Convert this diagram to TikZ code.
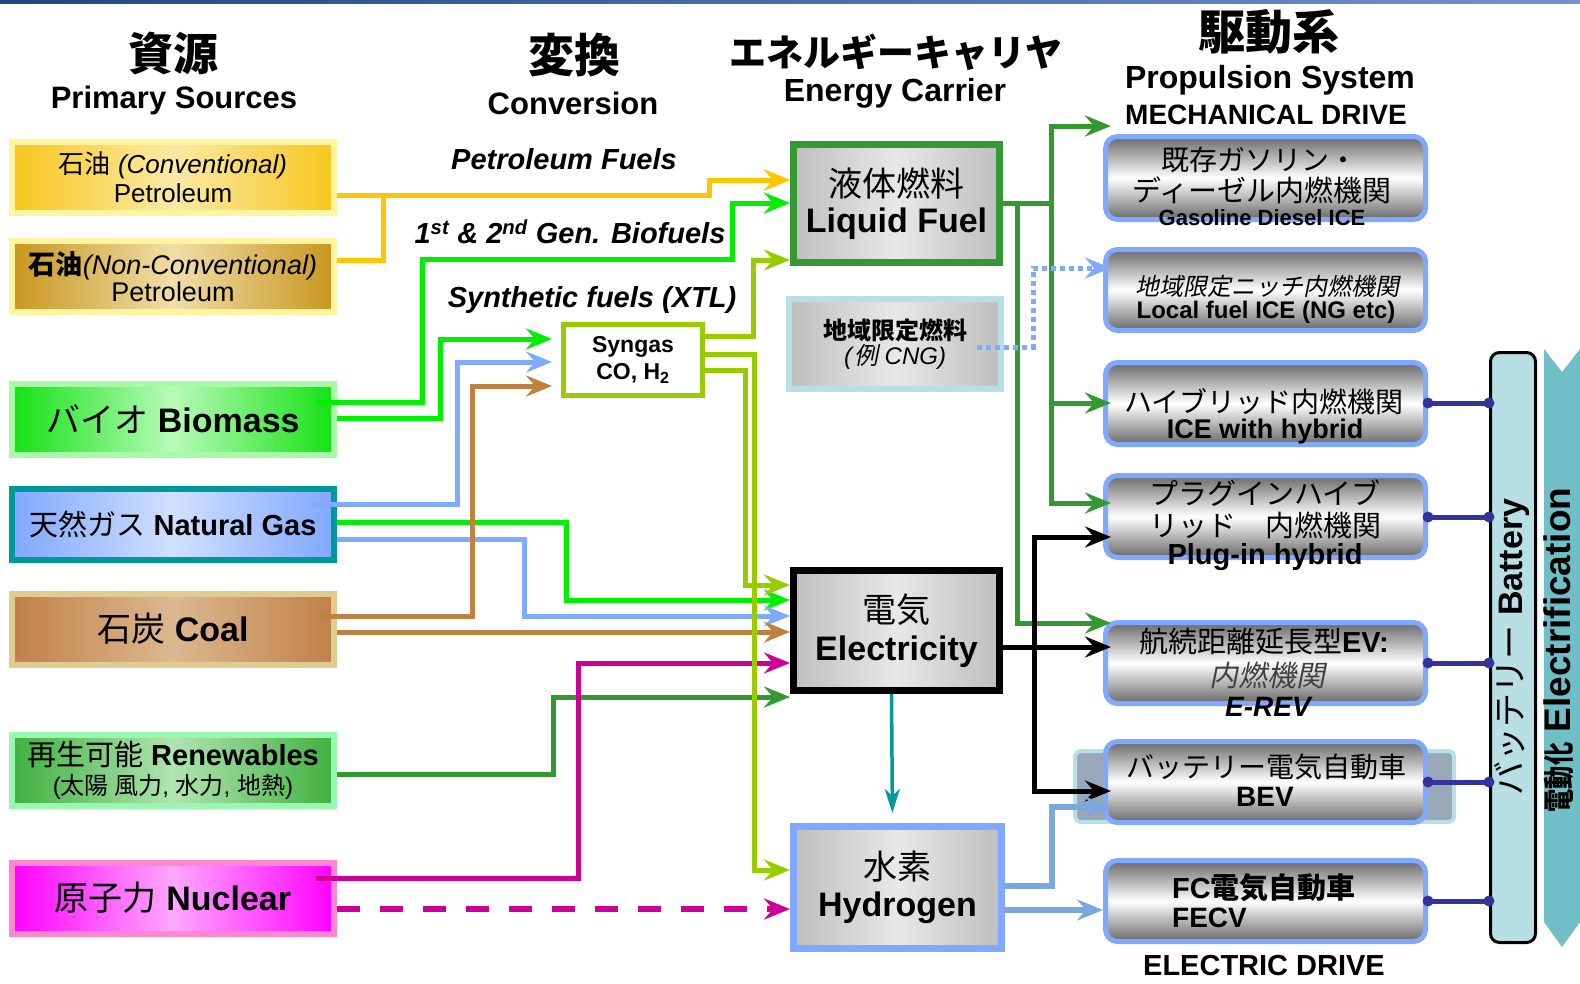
\documentclass[tikz,border=0pt]{standalone}
\usepackage{fontspec}
\setmainfont{Liberation Sans}
\newfontfamily\jp{Noto Sans CJK JP}[AutoFakeSlant=0.2]
\usetikzlibrary{arrows.meta}
\newcommand{\fsz}[2]{\fontsize{#1}{#2}\selectfont}
\definecolor{topL}{RGB}{31,73,125}
\definecolor{topR}{RGB}{110,150,200}
\definecolor{cYel}{RGB}{255,198,0}
\definecolor{cGrn}{RGB}{0,238,0}
\definecolor{cBlu}{RGB}{128,170,255}
\definecolor{cBrn}{RGB}{192,128,64}
\definecolor{cLgr}{RGB}{153,204,0}
\definecolor{cMag}{RGB}{204,0,153}
\definecolor{cDgr}{RGB}{51,153,51}
\definecolor{cTeal}{RGB}{0,153,153}
\definecolor{cHyd}{RGB}{123,167,222}
\definecolor{cBat}{RGB}{51,51,153}
\definecolor{convB}{RGB}{255,245,160}
\definecolor{convE}{RGB}{247,198,30}
\definecolor{convM}{RGB}{251,234,165}
\definecolor{ncvE}{RGB}{200,150,30}
\definecolor{ncvM}{RGB}{240,222,168}
\definecolor{bioB}{RGB}{168,250,168}
\definecolor{bioE}{RGB}{20,225,20}
\definecolor{bioM}{RGB}{185,250,185}
\definecolor{ngB}{RGB}{0,153,153}
\definecolor{ngE}{RGB}{128,168,255}
\definecolor{ngM}{RGB}{208,224,255}
\definecolor{coalB}{RGB}{224,204,144}
\definecolor{coalE}{RGB}{192,128,72}
\definecolor{coalM}{RGB}{220,184,144}
\definecolor{renB}{RGB}{152,248,176}
\definecolor{renE}{RGB}{64,176,64}
\definecolor{renM}{RGB}{176,228,176}
\definecolor{nucB}{RGB}{255,136,204}
\definecolor{nucE}{RGB}{255,0,255}
\definecolor{nucM}{RGB}{255,168,255}
\definecolor{gryE}{RGB}{190,190,190}
\definecolor{gryM}{RGB}{232,232,232}
\definecolor{lcB}{RGB}{184,224,228}
\definecolor{pB}{RGB}{128,168,255}
\definecolor{pDark}{RGB}{105,105,105}
\definecolor{shF}{RGB}{152,168,184}
\definecolor{batF}{RGB}{184,224,228}
\definecolor{elecF}{RGB}{112,190,198}
\tikzset{
  src/.style={line width=6pt, minimum width=322pt, minimum height=71pt, inner sep=0pt, align=center},
  carrier/.style={left color=gryE, right color=gryE, middle color=gryM, inner sep=0pt, align=center},
  pbox/.style={draw=pB, line width=5pt, rounded corners=12pt, minimum width=320pt, top color=pDark, bottom color=pDark, middle color=white, inner sep=0pt},
  txt/.style={inner sep=0pt, align=center},
  conn/.style={line width=5pt, -{Stealth[length=26pt,width=21pt,inset=9pt]}},
  into/.style={shorten >=-8pt},
  tosyn/.style={shorten >=9pt},
  batline/.style={draw=cBat, line width=5pt},
}
\begin{document}
\begin{tikzpicture}[x=1pt,y=-1pt]
\useasboundingbox (0,0) rectangle (1580,983);
\fill[left color=topL, right color=topR] (0,0) rectangle (1580,3);

% headers
\node[txt, font=\bfseries\fsz{45}{50}] (h1) at (173,53) {\jp 資源};
\node[txt, font=\bfseries\fsz{31}{36}] (h1e) at (174,100) {Primary Sources};
\node[txt, font=\bfseries\fsz{46}{50}] (h2) at (574,55) {\jp 変換};
\node[txt, font=\bfseries\fsz{31}{36}] (h2e) at (573,103) {Conversion};
\node[txt, font=\bfseries\fsz{37}{40}] (h3) at (896,52) {\jp エネルギーキャリヤ};
\node[txt, font=\bfseries\fsz{32}{36}] (h3e) at (895,93) {Energy Carrier};
\node[txt, font=\bfseries\fsz{47}{50}] (h4) at (1269,32) {\jp 駆動系};
\node[txt, font=\bfseries\fsz{32}{36}] (h4e) at (1270,80) {Propulsion System};
\node[txt, font=\bfseries\fsz{28}{32}] (h4m) at (1266,115) {MECHANICAL DRIVE};

% conversion labels
\node[txt, font=\bfseries\itshape\fsz{29}{32}] (lpf) at (564,159) {Petroleum Fuels};
\node[txt, font=\bfseries\itshape\fsz{29}{32}] (lbio) at (570,232) {1\textsuperscript{st} \& 2\textsuperscript{nd} Gen. Biofuels};
\node[txt, font=\bfseries\itshape\fsz{29}{32}] (lsyn) at (592,300) {Synthetic fuels (XTL)};

% primary sources
\node[src, draw=convB, left color=convE, right color=convE, middle color=convM, font=\fsz{26}{29}] (conv) at (173,177.5) {{\jp 石油} \textit{(Conventional)}\\Petroleum};
\node[src, draw=convB, left color=ncvE, right color=ncvE, middle color=ncvM, font=\fsz{27}{27}] (ncv) at (173,276.5) {{\jp\bfseries 石油}\textit{(Non-Conventional)}\\Petroleum};
\node[src, draw=bioB, left color=bioE, right color=bioE, middle color=bioM, font=\fsz{34}{36}] (bio) at (173,419.5) {{\jp バイオ} \textbf{Biomass}};
\node[src, draw=ngB, left color=ngE, right color=ngE, middle color=ngM, font=\fsz{29}{32}] (ng) at (173,524.5) {{\jp 天然ガス} \textbf{Natural Gas}};
\node[src, draw=coalB, left color=coalE, right color=coalE, middle color=coalM, font=\fsz{34}{36}] (coal) at (173,629) {{\jp 石炭} \textbf{Coal}};
\node[src, draw=renB, left color=renE, right color=renE, middle color=renM, font=\fsz{29}{29}] (ren) at (173,770.5) {{\jp 再生可能} \textbf{Renewables}\\{\fsz{24}{29}({\jp 太陽 風力}, {\jp 水力}, {\jp 地熱})}};
\node[src, draw=nucB, left color=nucE, right color=nucE, middle color=nucM, font=\fsz{34}{36}] (nuc) at (173,898) {{\jp 原子力} \textbf{Nuclear}};

% syngas
\node[draw=cLgr, line width=5pt, fill=white, minimum width=139pt, minimum height=71pt, inner sep=0pt, align=center, font=\bfseries\fsz{23}{27}] (syn) at (633,360) {Syngas\\CO, H\textsubscript{2}};

% energy carriers
\node[carrier, draw=cDgr, line width=7pt, minimum width=206pt, minimum height=118pt, font=\fsz{34}{36}] (lf) at (896.5,203.5) {{\jp 液体燃料}\\\textbf{Liquid Fuel}};
\node[carrier, draw=lcB, line width=6pt, minimum width=212pt, minimum height=90pt, font=\fsz{24}{25}] (lc) at (895,344) {{\jp\bfseries\itshape 地域限定燃料}\\\textit{(}{\jp\itshape 例}\textit{ CNG)}};
\node[carrier, draw=black, line width=7pt, minimum width=206pt, minimum height=120pt, font=\fsz{34}{38}] (el) at (896.5,630.5) {{\jp 電気}\\\textbf{Electricity}};
\node[carrier, draw=pB, line width=7pt, minimum width=208pt, minimum height=122pt, font=\fsz{34}{37}] (hy) at (897.5,887.5) {{\jp 水素}\\\textbf{Hydrogen}};

% electrification arrow and battery
\fill[elecF] (1544,349) -- (1562,372) -- (1580,349) -- (1580,922) -- (1562,947) -- (1544,922) -- cycle;
\node[rotate=90, txt, font=\bfseries\fsz{37}{40}] (elect) at (1559,650) {\scalebox{0.75}[1]{\jp\bfseries\fsz{31}{34}電動化} Electrification};
\node[draw=black, line width=3pt, fill=batF, rounded corners=9pt, minimum width=45pt, minimum height=590pt] (bat) at (1513,647.5) {};
\node[rotate=90, txt, font=\fsz{34}{36}] (batt) at (1512,647) {{\jp バッテリー} \textbf{Battery}};

% propulsion boxes
\node[draw=lcB, line width=4pt, fill=shF, rounded corners=6pt, minimum width=379pt, minimum height=71pt] (bevsh) at (1264.5,786.5) {};
\node[pbox, minimum height=83pt] (p1) at (1265.5,178) {};
\node[pbox, minimum height=81pt] (p2) at (1265.5,290) {};
\node[pbox, minimum height=82pt] (p3) at (1265.5,403.5) {};
\node[pbox, minimum height=82pt] (p4) at (1265.5,516.5) {};
\node[pbox, minimum height=81pt] (p5) at (1265.5,663) {};
\node[pbox, minimum height=81pt] (p6) at (1265.5,782) {};
\node[pbox, minimum height=81pt] (p7) at (1265.5,901) {};

\node[txt, font=\fsz{28}{30}] (p1a) at (1259,160) {\jp 既存ガソリン・};
\node[txt, font=\fsz{29}{30}] (p1b) at (1262,190) {\jp ディーゼル内燃機関};
\node[txt, font=\bfseries\fsz{22}{24}] (p1c) at (1262,218) {Gasoline Diesel ICE};
\node[txt, font=\fsz{24}{26}] (p2a) at (1267,286) {\jp\itshape 地域限定ニッチ内燃機関};
\node[txt, font=\bfseries\fsz{24}{26}] (p2b) at (1266,312) {Local fuel ICE (NG etc)};
\node[txt, font=\fsz{28}{30}] (p3a) at (1264,402) {\jp ハイブリッド内燃機関};
\node[txt, font=\bfseries\fsz{27}{30}] (p3b) at (1265,432) {ICE with hybrid};
\node[txt, font=\fsz{29}{30}] (p4a) at (1265,493) {\jp プラグインハイブ};
\node[txt, font=\fsz{29}{30}] (p4b) at (1265,525) {\jp リッド　内燃機関};
\node[txt, font=\bfseries\fsz{29}{30}] (p4c) at (1265,557) {Plug-in hybrid};
\node[txt, font=\fsz{29}{30}] (p5a) at (1264,642) {{\jp 航続距離延長型}\textbf{EV:}};
\node[txt, font=\fsz{29}{30}, text=black!75] (p5b) at (1267,675) {\jp\itshape 内燃機関};
\node[txt, font=\bfseries\itshape\fsz{28}{30}] (p5c) at (1268,707) {E-REV};
\node[txt, font=\fsz{28}{30}] (p6a) at (1266,767) {\jp バッテリー電気自動車};
\node[txt, font=\bfseries\fsz{28}{30}] (p6b) at (1265,797) {BEV};
\node[txt, anchor=west, font=\bfseries\fsz{29}{30}] (p7a) at (1172,888) {FC{\jp 電気自動車}};
\node[txt, anchor=west, font=\bfseries\fsz{28}{30}] (p7b) at (1172,918) {FECV};
\node[txt, font=\bfseries\fsz{29}{32}] (edrive) at (1264,966) {ELECTRIC DRIVE};

% --- connectors: sources ---
\draw[conn, cYel] (conv.east |- 0,195) -- (709,195) -- (709,180) -- (lf.west |- 0,180);
\draw[conn, cYel] (ncv.east |- 0,260) -- (383,260) -- (383,195) -- (709,195) -- (709,180) -- (lf.west |- 0,180);
\draw[conn, cGrn] ([xshift=-21pt]bio.east |- 0,402) -- (422,402) -- (422,259) -- (732,259) -- (732,203) -- (lf.west |- 0,203);
\draw[conn, cGrn, tosyn] (bio.east |- 0,418) -- (440,418) -- (440,339) -- (syn.west |- 0,339);
\draw[conn, cGrn] (ng.east |- 0,522) -- (566,522) -- (566,600) -- (el.west |- 0,600);
\draw[conn, cBlu, tosyn] ([xshift=-26pt]ng.east |- 0,504) -- (457,504) -- (457,362) -- (syn.west |- 0,362);
\draw[conn, cBlu] (ng.east |- 0,539) -- (524,539) -- (524,616) -- (el.west |- 0,616);
\draw[conn, cBrn, tosyn] ([xshift=-18pt]coal.east |- 0,616) -- (472,616) -- (472,386) -- (syn.west |- 0,386);
\draw[conn, cBrn] (coal.east |- 0,632) -- (el.west |- 0,632);
\draw[conn, cDgr] (ren.east |- 0,774) -- (553,774) -- (553,697) -- (el.west |- 0,697);
\draw[conn, cMag] ([xshift=-21pt]nuc.east |- 0,878) -- (578,878) -- (578,663) -- (el.west |- 0,663);
\draw[conn, cMag, line width=6.5pt, dash pattern=on 23pt off 20pt] (nuc.east |- 0,909) -- (hy.west |- 0,909);
% syngas outputs
\draw[conn, cLgr] (syn.east |- 0,336) -- (753,336) -- (753,260) -- (lf.west |- 0,260);
\draw[conn, cLgr] (syn.east |- 0,354) -- (754,354) -- (754,870) -- (hy.west |- 0,870);
\draw[conn, cLgr] (syn.east |- 0,370) -- (745,370) -- (745,585) -- (el.west |- 0,585);

% --- connectors: carriers to propulsion ---
\draw[conn, cDgr, into] (lf.east |- 0,203) -- (1051,203) -- (1051,126) -- (p1.west |- 0,126);
\draw[conn, cDgr, into] (lf.east |- 0,203) -- (1051,203) -- (1051,403) -- (p3.west |- 0,403);
\draw[conn, cDgr, into] (lf.east |- 0,203) -- (1051,203) -- (1051,503) -- (p4.west |- 0,503);
\draw[conn, cDgr, into] (lf.east |- 0,203) -- (1017,203) -- (1017,623) -- (p5.west |- 0,623);
\draw[conn, cBlu, dash pattern=on 5pt off 4pt, into] ([xshift=-27pt]lc.east |- 0,347) -- (1033,347) -- (1033,268) -- (p2.west |- 0,268);
\draw[conn, black, into] (el.east |- 0,647) -- (p5.west |- 0,647);
\draw[conn, black, into] (el.east |- 0,647) -- (1034,647) -- (1034,537) -- (p4.west |- 0,537);
\draw[conn, black, into] (el.east |- 0,647) -- (1034,647) -- (1034,791) -- (p6.west |- 0,791);
\draw[line width=3.5pt, cTeal, -{Stealth[length=24pt,width=15pt,inset=7pt]}, shorten >=10pt] ([xshift=-5pt]el.south) -- ([xshift=-5pt]hy.north);
\draw[conn, cHyd, line width=6pt, into] (hy.east |- 0,886) -- (1052,886) -- (1052,807) -- (p6.west |- 0,807);
\draw[conn, cHyd, line width=6pt] (hy.east |- 0,910) -- (p7.west |- 0,910);

% --- battery links ---
\foreach \n/\yy in {p3/403, p4/517, p5/663, p6/782, p7/901}{
  \draw[batline] (\n.east |- 0,\yy) -- (bat.west |- 0,\yy);
  \fill[cBat] (\n.east |- 0,\yy) circle (5.5) (bat.west |- 0,\yy) circle (5.5);
}
\end{tikzpicture}
\end{document}
